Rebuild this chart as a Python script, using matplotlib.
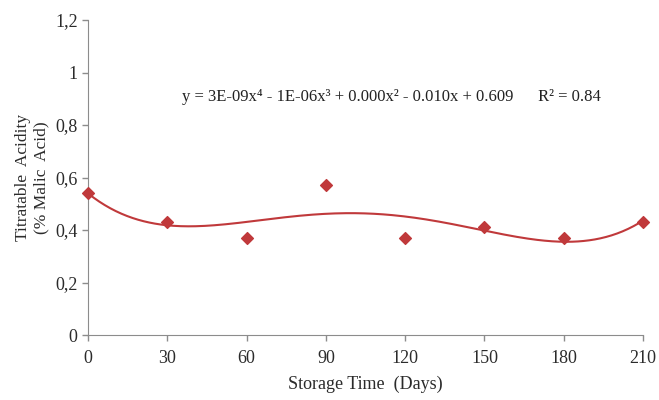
import matplotlib.pyplot as plt
import numpy as np

days = [0, 30, 60, 90, 120, 150, 180, 210]
acidity = [0.54, 0.43, 0.37, 0.57, 0.37, 0.41, 0.37, 0.43]
x_ticks = [0, 30, 60, 90, 120, 150, 180, 210]
y_ticks = [0, 0.2, 0.4, 0.6, 0.8, 1.0, 1.2]
y_tick_labels = ["0", "0,2", "0,4", "0,6", "0,8", "1", "1,2"]
equation = "y = 3E-09x\u2074 - 1E-06x\u00b3 + 0.000x\u00b2 - 0.010x + 0.609      R\u00b2 = 0.84"

plt.rcParams["font.family"] = ["Liberation Serif", "DejaVu Serif"]

red = "#c0393b"
grey = "#8c8c8c"
text_col = "#2b2b2b"

fig = plt.figure(figsize=(6.59, 4.0), dpi=100)
ax = fig.add_axes([88 / 659, 65 / 400, 555 / 659, 315 / 400])

# 4th-order polynomial trendline, as in the original spreadsheet chart
coef = np.polyfit(days, acidity, 4)
xs = np.linspace(0, 210, 300)
ax.plot(xs, np.polyval(coef, xs), color=red, lw=1.5, zorder=2)
ax.scatter(days, acidity, marker="D", s=36, color=red, zorder=3, clip_on=False)

ax.set_xlim(0, 210)
ax.set_ylim(0, 1.2)
ax.set_xticks(x_ticks)
ax.set_yticks(y_ticks)
ax.set_yticklabels(y_tick_labels)
ax.tick_params(labelsize=13, colors=grey, labelcolor=text_col, length=4, width=1)
ax.tick_params(axis="x", pad=7)
for side in ["top", "right"]:
    ax.spines[side].set_visible(False)
for side in ["left", "bottom"]:
    ax.spines[side].set_color(grey)

ax.set_xlabel("Storage Time  (Days)", fontsize=13, color=text_col, labelpad=6)
ax.set_ylabel("Titratable  Acidity\n(% Malic  Acid)", fontsize=12.5, color=text_col, labelpad=4)
ax.text(115, 0.905, equation, fontsize=12, color="#222222", ha="center", va="center")

fig.savefig("out.png", dpi=100)
